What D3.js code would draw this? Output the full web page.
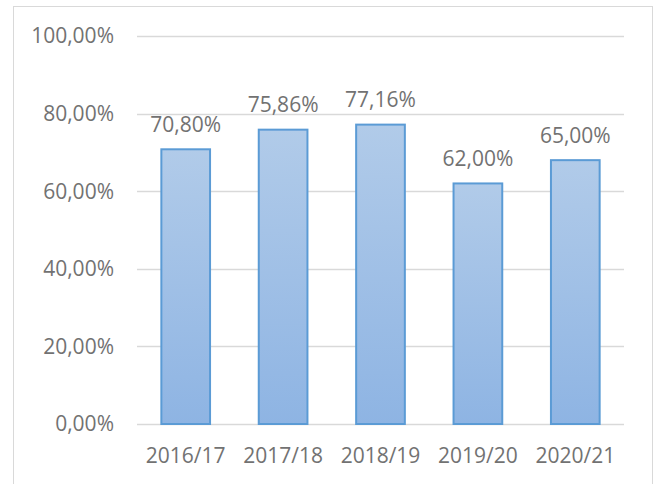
<!DOCTYPE html>
<html>
<head>
<meta charset="utf-8">
<script src="https://cdn.jsdelivr.net/npm/d3@7"></script>
<style>
  html, body { margin: 0; padding: 0; background: #fff; }
  svg text { font-family: "Open Sans", "Liberation Sans", sans-serif; fill: #727272; }
</style>
</head>
<body>
<div id="chart"></div>
<script>
const categories = ["2016/17", "2017/18", "2018/19", "2019/20", "2020/21"];
// bar heights as drawn (the last bar stands higher than its label says)
const values = [70.8, 75.86, 77.16, 62.0, 68.0];
const valueLabels = ["70,80%", "75,86%", "77,16%", "62,00%", "65,00%"];
const yTicks = [0, 20, 40, 60, 80, 100];
const yTickLabels = ["0,00%", "20,00%", "40,00%", "60,00%", "80,00%", "100,00%"];

class ColumnChart {
  constructor(el) {
    this.el = el;
    this._setup();
    this._scaffold();
    this._render();
  }

  _setup() {
    this.width = 657;
    this.height = 484;
    this.plot = { left: 137, right: 624, top: 36, bottom: 424 };
    this.fontSize = 21;

    this.x = d3
      .scaleBand()
      .domain(categories)
      .range([this.plot.left, this.plot.right])
      .paddingInner(0.5)
      .paddingOuter(0.25);

    this.y = d3
      .scaleLinear()
      .domain([0, 100])
      .range([this.plot.bottom, this.plot.top]);
  }

  _scaffold() {
    d3.select(this.el).selectAll("*").remove();

    this.svg = d3
      .select(this.el)
      .append("svg")
      .attr("width", this.width)
      .attr("height", this.height);

    const grad = this.svg
      .append("defs")
      .append("linearGradient")
      .attr("id", "barFill")
      .attr("x1", 0)
      .attr("y1", 0)
      .attr("x2", 0)
      .attr("y2", 1);
    grad.append("stop").attr("offset", "0%").attr("stop-color", "#b1cbe9");
    grad.append("stop").attr("offset", "100%").attr("stop-color", "#8eb4e3");

    // chart area border (bottom edge runs past the window)
    this.svg
      .append("rect")
      .attr("x", 13.5)
      .attr("y", 6.5)
      .attr("width", 639)
      .attr("height", 500)
      .attr("fill", "none")
      .attr("stroke", "#d9d9d9")
      .attr("stroke-width", 1);

    this.gridG = this.svg.append("g");
    this.barsG = this.svg.append("g");
    this.labelsG = this.svg.append("g");
    this.yAxisG = this.svg.append("g");
    this.xAxisG = this.svg.append("g");
  }

  _render() {
    this.gridG
      .selectAll("line")
      .data(yTicks)
      .join("line")
      .attr("x1", this.plot.left)
      .attr("x2", this.plot.right)
      .attr("y1", (d) => Math.round(this.y(d)) + 0.5)
      .attr("y2", (d) => Math.round(this.y(d)) + 0.5)
      .attr("stroke", "#d9d9d9")
      .attr("stroke-width", 1.5);

    this.barsG
      .selectAll("rect")
      .data(values)
      .join("rect")
      .attr("x", (d, i) => this.x(categories[i]))
      .attr("y", (d) => this.y(d))
      .attr("width", this.x.bandwidth())
      .attr("height", (d) => this.y(0) - this.y(d))
      .attr("fill", "url(#barFill)")
      .attr("stroke", "#5b9bd5")
      .attr("stroke-width", 2);

    this.labelsG
      .selectAll("text")
      .data(values)
      .join("text")
      .attr("x", (d, i) => this.x(categories[i]) + this.x.bandwidth() / 2)
      .attr("y", (d) => this.y(d) - 17.5)
      .attr("text-anchor", "middle")
      .attr("font-size", this.fontSize)
      .text((d, i) => valueLabels[i]);

    this.yAxisG
      .selectAll("text")
      .data(yTicks)
      .join("text")
      .attr("x", 114)
      .attr("y", (d) => this.y(d))
      .attr("dy", "0.35em")
      .attr("text-anchor", "end")
      .attr("font-size", this.fontSize)
      .text((d, i) => yTickLabels[i]);

    this.xAxisG
      .selectAll("text")
      .data(categories)
      .join("text")
      .attr("x", (d) => this.x(d) + this.x.bandwidth() / 2)
      .attr("y", this.plot.bottom + 38.5)
      .attr("text-anchor", "middle")
      .attr("font-size", this.fontSize)
      .text((d) => d);
  }
}

new ColumnChart(document.getElementById("chart"));
</script>
</body>
</html>
